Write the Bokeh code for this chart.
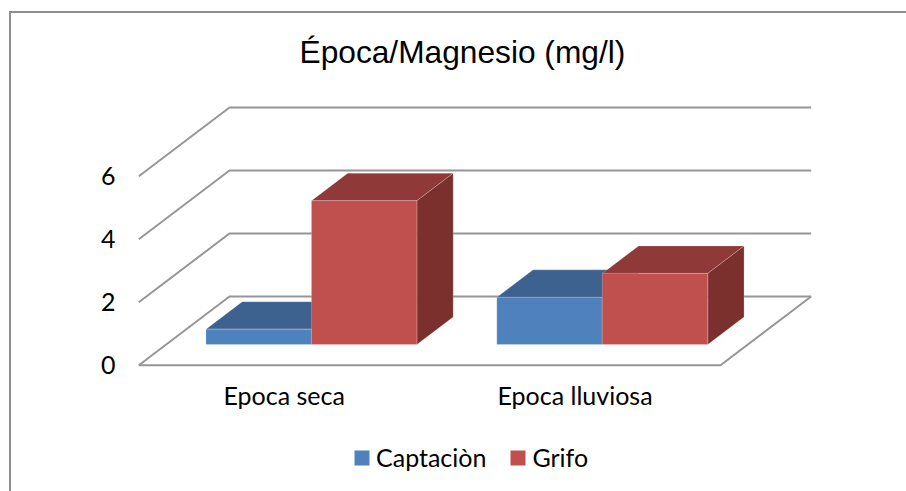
from bokeh.embed import file_html
from bokeh.resources import INLINE
from bokeh.plotting import figure
from bokeh.models import (ColumnDataSource, FixedTicker, Legend, LegendItem, Range1d)

title_text = "Época/Magnesio (mg/l)"
categories = ["Epoca seca", "Epoca lluviosa"]
captacion = [0.49, 1.5]
grifo = [4.57, 2.26]
value_ticks = [0, 2, 4, 6]
series_names = ["Captaciòn", "Grifo"]

# Oblique projection of the Excel 3-D chart, in axis units
CAT_PX, VAL_PX = 290.85, 31.5
DEPTH_X, DEPTH_Y = 90.7 / CAT_PX, 68.7 / VAL_PX
BAR_W = 0.3627
D0, D1 = 0.3, 0.7
X0_PAGE, Y0_PAGE = 138.3, 364.7
F_L, F_R, F_T, F_B = 119, 816, 87, 491     # frame box on the page
AXIS_PAGE_Y = 370                          # where the category axis sits inside the frame
OX, OY = 11, 13                            # canvas origin on the page (inside the chart-area border)

p = figure(width=906 - OX, height=491 - OY, output_backend="svg", toolbar_location=None,
           frame_width=F_R - F_L, frame_height=F_B - F_T,
           x_range=Range1d((F_L - X0_PAGE) / CAT_PX, (F_R - X0_PAGE) / CAT_PX),
           y_range=Range1d((Y0_PAGE - F_B) / VAL_PX, (Y0_PAGE - F_T) / VAL_PX),
           min_border_left=F_L - OX, min_border_right=906 - F_R,
           min_border_top=F_T - OY, min_border_bottom=0,
           background_fill_color="white", border_fill_color="white")
p.outline_line_color = None
p.grid.visible = False
p.styles = {"margin-left": f"{OX - 2}px", "margin-top": f"{OY - 2}px",
            "border-left": "2px solid #8e8e8e", "border-top": "2px solid #8e8e8e"}

p.title.text = title_text
p.title.text_font = "Liberation Sans"
p.title.text_font_style = "normal"
p.title.text_font_size = "31.7px"
p.title.text_color = "#000000"
p.title.align = "left"
p.title.offset = 180
p.title.standoff = 36

LABEL_FONT = "Lato"
LABEL_SIZE = "25px"
for ax, standoff in ((p.yaxis[0], -2), (p.xaxis[0], 3)):
    ax.axis_line_color = None
    ax.major_tick_line_color = None
    ax.minor_tick_line_color = None
    ax.major_label_text_font = LABEL_FONT
    ax.major_label_text_font_size = LABEL_SIZE
    ax.major_label_text_color = "#000000"
    ax.major_label_standoff = standoff
p.yaxis[0].ticker = FixedTicker(ticks=value_ticks)
centres = [i + 0.5 for i in range(len(categories))]
p.xaxis[0].ticker = FixedTicker(ticks=centres)
p.xaxis[0].major_label_overrides = {c: n for c, n in zip(centres, categories)}
p.xaxis[0].fixed_location = (Y0_PAGE - AXIS_PAGE_Y) / VAL_PX

# walls and floor
GRID = "#969696"
n = len(categories)
xs, ys = [], []
for v in value_ticks:
    xs.append([0, DEPTH_X, n + DEPTH_X])
    ys.append([v, v + DEPTH_Y, v + DEPTH_Y])
xs.append([0, n, n + DEPTH_X])
ys.append([0, 0, DEPTH_Y])
p.multi_line(xs, ys, line_color=GRID, line_width=2)


def draw_series(values, side_sign, front, top, side):
    lx, rx = [], []
    for i, _ in enumerate(values):
        c = i + 0.5
        a = c - BAR_W if side_sign < 0 else c
        lx.append(a)
        rx.append(a + BAR_W)
    fx = [x + D0 * DEPTH_X for x in lx]
    fr = [x + D0 * DEPTH_X for x in rx]
    bx = [x + D1 * DEPTH_X for x in lx]
    br = [x + D1 * DEPTH_X for x in rx]
    y0f = D0 * DEPTH_Y
    y0b = D1 * DEPTH_Y
    edge = dict(line_color="white", line_alpha=0.2, line_width=1)
    p.patches([[fx[i], fr[i], br[i], bx[i]] for i in range(n)],
              [[values[i] + y0f, values[i] + y0f, values[i] + y0b, values[i] + y0b] for i in range(n)],
              fill_color=top, **edge)
    p.patches([[fr[i], br[i], br[i], fr[i]] for i in range(n)],
              [[y0f, y0b, values[i] + y0b, values[i] + y0f] for i in range(n)],
              fill_color=side, **edge)
    src = ColumnDataSource(dict(left=fx, right=fr, bottom=[y0f] * n,
                                top=[v + y0f for v in values]))
    return p.quad(left="left", right="right", bottom="bottom", top="top", source=src,
                  fill_color=front, **edge)


r1 = draw_series(captacion, -1, "#4F81BD", "#3E628F", "#335277")
r2 = draw_series(grifo, 1, "#C0504D", "#8F3A38", "#7C302E")

legend = Legend(items=[LegendItem(label=series_names[0], renderers=[r1]),
                       LegendItem(label=series_names[1], renderers=[r2])],
                orientation="horizontal", location=(233, 19),
                border_line_color=None, background_fill_alpha=0,
                glyph_width=19, glyph_height=19, label_standoff=5, spacing=22,
                padding=0, margin=0,
                label_text_font=LABEL_FONT, label_text_font_size=LABEL_SIZE,
                label_text_color="#000000")
p.add_layout(legend)

open("out.html", "w").write(file_html(p, INLINE))
